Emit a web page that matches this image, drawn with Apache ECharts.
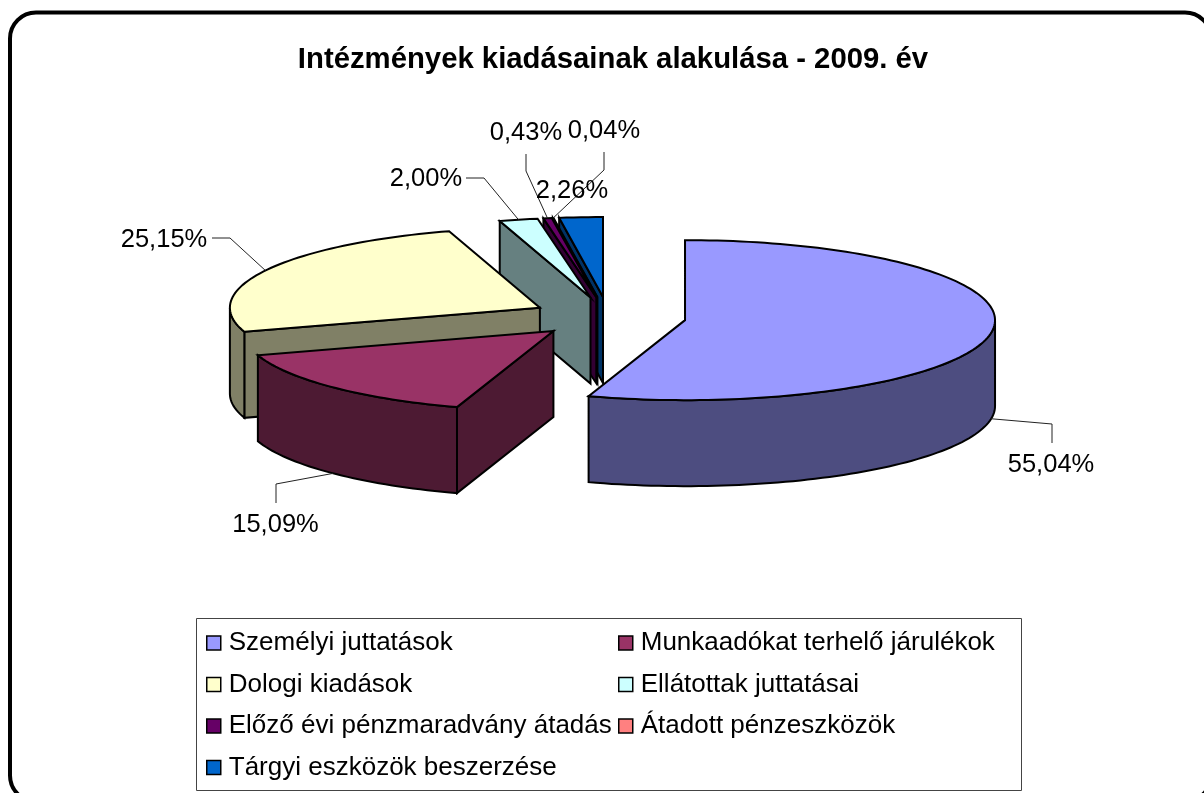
<!DOCTYPE html>
<html lang="hu">
<head>
<meta charset="utf-8">
<title>Intézmények kiadásainak alakulása - 2009. év</title>
<style>html,body{margin:0;padding:0;background:#fff}#chart{width:1204px;height:793px}</style>
<script src="https://cdn.jsdelivr.net/npm/echarts@6/dist/echarts.min.js"></script>
</head>
<body>
<div id="chart"></div>
<script>
// ---- data ----
const titleText = 'Intézmények kiadásainak alakulása - 2009. év';
const categories = ['Személyi juttatások','Munkaadókat terhelő járulékok','Dologi kiadások','Ellátottak juttatásai','Előző évi pénzmaradvány átadás','Átadott pénzeszközök','Tárgyi eszközök beszerzése'];
const values = [55.04,15.09,25.15,2.00,0.43,0.04,2.26];
const topColors = ['#9999FF','#993366','#FFFFCC','#CCFFFF','#660066','#FF8080','#0066CC'];
const sideColors = ['#4D4D80','#4D1A33','#808066','#668080','#330033','#804040','#003366'];

// ---- layout of the projected pie ----
const pie = {cx:608.5, cy:317, rx:310, ry:80, depth:86, explode:0.25};
// label centre, then leader start and elbow (null: no leader)
const labelLayout = [
  {at:[1051,465], start:[1052,443], elbow:[1052,424], bottom:true},
  {at:[275.5,525],start:[276,503],  elbow:[276,484],  bottom:true},
  {at:[164,240],  start:[212,238],  elbow:[230,238]},
  {at:[426,179],  start:[466,178],  elbow:[484,178]},
  {at:[526,133],  start:[526,154],  elbow:[526,171]},
  {at:[604,131],  start:[604,152],  elbow:[604,170]},
  {at:[572,191]}
];
const FONT = '"Liberation Sans", Arial, sans-serif';
const FS = 26;
const LABEL_FS = 25.5;

const total = values.reduce((a,b)=>a+b,0);
const rad = d => d*Math.PI/180;
let acc = 0;
const slices = values.map((v,i)=>{
  const a1 = acc/total*360; acc += v; const a2 = acc/total*360;
  const mid = (a1+a2)/2;
  return {i,a1,a2,mid,
    ax: pie.cx + pie.explode*pie.rx*Math.sin(rad(mid)),
    ay: pie.cy - pie.explode*pie.ry*Math.cos(rad(mid))};
});
const rim = (s,a,dy)=>[s.ax+pie.rx*Math.sin(rad(a)), s.ay-pie.ry*Math.cos(rad(a))+(dy||0)];
function arc(s,a,b,dy){
  const n = Math.max(1,Math.ceil((b-a)/1.5)), out=[];
  for(let k=0;k<=n;k++) out.push(rim(s,a+(b-a)*k/n,dy));
  return out;
}
const edge = {stroke:'#000',lineWidth:2,lineJoin:'miter'};
const poly = (points,fill,z2)=>({type:'polygon',z2:z2||0,silent:true,shape:{points},style:Object.assign({fill},edge)});

function drawSlice(i){
  const s = slices[i], d = pie.depth, side = sideColors[i], kids = [];
  if(s.a2>0 && s.a2<180) kids.push(poly([[s.ax,s.ay],rim(s,s.a2),rim(s,s.a2,d),[s.ax,s.ay+d]],side));
  if(s.a1>180 && s.a1<360) kids.push(poly([[s.ax,s.ay],rim(s,s.a1),rim(s,s.a1,d),[s.ax,s.ay+d]],side));
  const lo = Math.max(s.a1,90), hi = Math.min(s.a2,270);
  if(hi>lo) kids.push(poly(arc(s,lo,hi,0).concat(arc(s,lo,hi,d).reverse()),side));
  kids.push(poly([[s.ax,s.ay]].concat(arc(s,s.a1,s.a2,0)),topColors[i]));
  const L = labelLayout[i];
  if(L.start){
    kids.push({type:'polyline',z2:50,silent:true,
      shape:{points:[L.start,L.elbow,rim(s,s.mid,L.bottom?d:0)]},
      style:{stroke:'#222',lineWidth:1,fill:null}});
  }
  kids.push({type:'text',z2:60,silent:true,x:L.at[0],y:L.at[1],
    style:{text:values[i].toFixed(2).replace('.',',')+'%',fill:'#000',font:LABEL_FS+'px '+FONT,textAlign:'center',textVerticalAlign:'middle'}});
  return {type:'group',children:kids};
}

const series = categories.map((name,i)=>({
  type:'custom',name,coordinateSystem:'none',silent:true,animation:false,
  itemStyle:{color:topColors[i]},
  data:[[values[i]]],
  renderItem:()=>drawSlice(i)
})).reverse();

const legendBase = {
  orient:'vertical',icon:'rect',itemWidth:14,itemHeight:14,itemGap:15.5,selectedMode:false,padding:0,
  itemStyle:{borderColor:'#000',borderWidth:1.5},
  textStyle:{fontFamily:FONT,fontSize:FS,color:'#000',padding:[0,0,0,3],lineHeight:26}
};
const chart = echarts.init(document.getElementById('chart'),null,{renderer:'canvas'});
chart.setOption({
  animation:false,
  backgroundColor:'#fff',
  title:{text:titleText,left:613,top:45,textAlign:'center',padding:0,
    textStyle:{fontFamily:FONT,fontSize:29.3,fontWeight:'bold',color:'#000'}},
  legend:[
    Object.assign({},legendBase,{left:206,top:630,data:[categories[0],categories[2],categories[4],categories[6]]}),
    Object.assign({},legendBase,{left:618,top:630,data:[categories[1],categories[3],categories[5]]})
  ],
  graphic:[
    {type:'rect',z:-1,silent:true,shape:{x:10,y:12.5,width:1201,height:789,r:26},style:{fill:'#fff',stroke:'#000',lineWidth:4}},
    {type:'rect',z:-1,silent:true,shape:{x:196.5,y:618.5,width:825,height:172},style:{fill:'#fff',stroke:'#444',lineWidth:1}}
  ],
  series
});
</script>
</body>
</html>
